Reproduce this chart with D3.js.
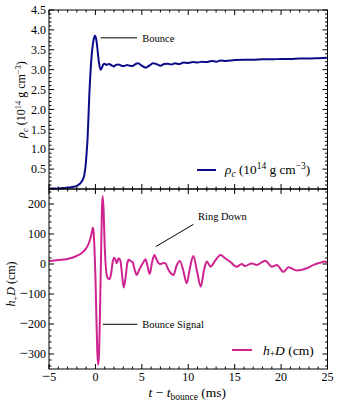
<!DOCTYPE html>
<html>
<head>
<meta charset="utf-8">
<script src="https://cdn.jsdelivr.net/npm/d3@7"></script>
<style>
  body { margin: 0; background: #fff; }
  svg text { font-family: "Liberation Serif", "DejaVu Serif", serif; fill: #000; }
</style>
</head>
<body>
<script>
// central density (10^14 g/cm^3) vs time after bounce (ms)
const rhoTime = [-5, -4, -3, -2.5, -2, -1.8, -1.6, -1.4, -1.2, -1.05, -0.95, -0.85, -0.75, -0.65, -0.5, -0.35, -0.2, -0.05,
  0.1, 0.25, 0.4, 0.55, 0.7, 0.85, 1.0, 1.2, 1.4, 1.6, 1.8, 2.0, 2.2, 2.5, 2.8, 3.1, 3.4, 3.7, 4.0, 4.3, 4.6, 5.0,
  5.4, 5.8, 6.2, 6.6, 7.0, 7.4, 7.8, 8.2, 8.6, 9.0, 9.5, 10, 10.5, 11, 11.5, 12, 12.5, 13, 13.5, 14, 15, 16, 17, 18,
  19, 20, 21, 22, 23, 24, 25];
const rhoVal = [0.01, 0.015, 0.03, 0.05, 0.08, 0.11, 0.15, 0.22, 0.35, 0.6, 0.9, 1.25, 1.8, 2.4, 3.05, 3.5, 3.75, 3.85,
  3.75, 3.45, 3.15, 3.0, 3.05, 3.13, 3.15, 3.12, 3.14, 3.13, 3.1, 3.08, 3.12, 3.13, 3.1, 3.09, 3.12, 3.1, 3.09, 3.14, 3.16, 3.1,
  3.05, 3.1, 3.16, 3.14, 3.1, 3.14, 3.15, 3.13, 3.16, 3.14, 3.18, 3.17, 3.19, 3.18, 3.2, 3.19, 3.22, 3.2, 3.23, 3.22, 3.24, 3.25, 3.25, 3.26,
  3.26, 3.27, 3.27, 3.28, 3.28, 3.29, 3.3];

// gravitational wave strain h+ D (cm)
const hTime = [-5, -4, -3, -2.5, -2, -1.5, -1.0, -0.7, -0.5, -0.35, -0.28, -0.2, -0.1, 0.0, 0.1, 0.2, 0.3, 0.4, 0.5, 0.6,
  0.7, 0.78, 0.88, 1.0, 1.15, 1.3, 1.5, 1.7, 1.85, 2.0, 2.15, 2.3, 2.5, 2.7, 2.85, 3.05, 3.25, 3.45, 3.6, 3.8,
  4.0, 4.2, 4.45, 4.7, 4.9, 5.15, 5.4, 5.6, 5.85, 6.1, 6.35, 6.55, 6.8, 7.0, 7.3, 7.55, 7.8, 8.1, 8.4, 8.75,
  9.1, 9.45, 9.84, 10.2, 10.55, 10.95, 11.35, 11.7, 12.0, 12.4, 12.9, 13.5, 13.96, 14.5, 15.2, 15.77, 16.1, 16.84, 17.38, 18.3,
  19.0, 19.54, 20.25, 20.8, 21.7, 22.77, 23.5, 24.2, 24.74, 25];
const hVal = [10, 13, 17, 21, 27, 36, 52, 70, 90, 112, 121, 110, 50, -40, -170, -290, -337, -290, -150, 20,
  180, 227, 180, 60, -20, -45, -51, -30, 5, 21, 15, 3, 19, 10, -30, -78, -45, 5, 14, 10,
  6, -15, -37, -20, -8, 5, 16, -5, -33, 5, 30, 18, 3, 0, 3, 2, -15, -30, -37, -5,
  10, -20, -64, -10, 27, -25, -76, -20, 8, -9, 11, 30, 19, 8, -9, 0, -7, 2, -3, 11,
  -9, -3, -26, -11, -22, -14, -3, 4, 8, 2];

const xTicks = [-5, 0, 5, 10, 15, 20, 25];
const rhoTicks = [0.5, 1.0, 1.5, 2.0, 2.5, 3.0, 3.5, 4.0, 4.5];
const hTicks = [-300, -200, -100, 0, 100, 200];

const w = 339, h = 404;
const left = 49, right = 327.5;
const top1 = 10, mid = 189, bot2 = 369;
const blue = "#0c0c8a";
const pink = "#cf2390";

const svg = d3.select("body").append("svg")
  .attr("width", w).attr("height", h);

const x = d3.scaleLinear().domain([-5, 25]).range([left, right]);
const yR = d3.scaleLinear().domain([0, 4.5]).range([mid, top1]);
const yH = d3.scaleLinear().domain([-350, 250]).range([bot2, mid]);

// ticks drawn inward on all sides
function xTickMarks(yPos, dir) {
  const g = svg.append("g");
  d3.range(-5, 25.01, 1).forEach(v => {
    const major = v % 5 === 0;
    const len = major ? 5 : 2.5;
    g.append("line")
      .attr("x1", x(v)).attr("x2", x(v))
      .attr("y1", yPos).attr("y2", yPos + dir * len)
      .attr("stroke", "#000").attr("stroke-width", 1);
  });
}
function yTickMarks(scale, lo, hi, minorStep, majorStep) {
  const g = svg.append("g");
  const n = Math.round((hi - lo) / minorStep);
  for (let i = 0; i <= n; i++) {
    const v = lo + i * minorStep;
    const major = Math.abs(v / majorStep - Math.round(v / majorStep)) < 1e-6;
    const len = major ? 5 : 2.5;
    [[left, 1], [right, -1]].forEach(([xp, dir]) => {
      g.append("line")
        .attr("x1", xp).attr("x2", xp + dir * len)
        .attr("y1", scale(v)).attr("y2", scale(v))
        .attr("stroke", "#000").attr("stroke-width", 1);
    });
  }
}

xTickMarks(top1, 1);
xTickMarks(mid, -1);
xTickMarks(mid, 1);
xTickMarks(bot2, -1);
yTickMarks(yR, 0, 4.5, 0.1, 0.5);
yTickMarks(yH, -340, 240, 20, 100);

// curves
const rhoData = rhoTime.map((t, i) => ({ t: t, v: rhoVal[i] }));
const hData = hTime.map((t, i) => ({ t: t, v: hVal[i] }));

svg.append("path")
  .datum(rhoData)
  .attr("fill", "none")
  .attr("stroke", blue)
  .attr("stroke-width", 2)
  .attr("d", d3.line().x(d => x(d.t)).y(d => yR(d.v)).curve(d3.curveMonotoneX));

svg.append("path")
  .datum(hData)
  .attr("fill", "none")
  .attr("stroke", pink)
  .attr("stroke-width", 2)
  .attr("d", d3.line().x(d => x(d.t)).y(d => yH(d.v)).curve(d3.curveMonotoneX));

// frames
svg.append("rect")
  .attr("x", left).attr("y", top1)
  .attr("width", right - left).attr("height", mid - top1)
  .attr("fill", "none").attr("stroke", "#000").attr("stroke-width", 1);
svg.append("rect")
  .attr("x", left).attr("y", mid)
  .attr("width", right - left).attr("height", bot2 - mid)
  .attr("fill", "none").attr("stroke", "#000").attr("stroke-width", 1);

// tick labels (wide math-style minus)
function numLabel(sel, str) {
  if (str.startsWith("−")) {
    sel.append("tspan").attr("font-size", 15).text("−");
    sel.append("tspan").text(str.slice(1));
  } else {
    sel.text(str);
  }
}

svg.append("g").selectAll("text")
  .data(rhoTicks).enter().append("text")
  .attr("x", left - 3).attr("y", d => yR(d)).attr("dy", "0.35em")
  .attr("text-anchor", "end").attr("font-size", 12)
  .text(d => d3.format(".1f")(d));

svg.append("g").selectAll("text")
  .data(hTicks).enter().append("text")
  .attr("x", left - 3).attr("y", d => yH(d)).attr("dy", "0.35em")
  .attr("text-anchor", "end").attr("font-size", 12)
  .each(function (d) { numLabel(d3.select(this), d3.format("d")(d)); });

svg.append("g").selectAll("text")
  .data(xTicks).enter().append("text")
  .attr("x", d => x(d)).attr("y", bot2 + 11.5)
  .attr("text-anchor", "middle").attr("font-size", 12)
  .each(function (d) { numLabel(d3.select(this), d3.format("d")(d)); });

// axis titles
const yt1 = svg.append("text")
  .attr("transform", "translate(25," + ((top1 + mid) / 2) + ") rotate(-90)")
  .attr("text-anchor", "middle").attr("font-size", 12);
yt1.append("tspan").attr("font-style", "italic").text("ρ");
yt1.append("tspan").attr("font-style", "italic").attr("font-size", 8.5).attr("dy", 2.5).text("c");
yt1.append("tspan").attr("dy", -2.5).text(" (10");
yt1.append("tspan").attr("font-size", 8.5).attr("dy", -4.5).text("14");
yt1.append("tspan").attr("dy", 4.5).text(" g cm");
yt1.append("tspan").attr("font-size", 8.5).attr("dy", -4.5).text("−3");
yt1.append("tspan").attr("dy", 4.5).text(")");

const yt2 = svg.append("text")
  .attr("transform", "translate(15," + ((mid + bot2) / 2 + 5) + ") rotate(-90)")
  .attr("text-anchor", "middle").attr("font-size", 12);
yt2.append("tspan").attr("font-style", "italic").text("h");
yt2.append("tspan").attr("font-size", 8.5).attr("dy", 2.5).text("+");
yt2.append("tspan").attr("font-style", "italic").attr("dy", -2.5).text("D");
yt2.append("tspan").text(" (cm)");

const xt = svg.append("text")
  .attr("x", (left + right) / 2 - 1).attr("y", 397)
  .attr("text-anchor", "middle").attr("font-size", 13.5);
xt.append("tspan").attr("font-style", "italic").text("t");
xt.append("tspan").text(" − ");
xt.append("tspan").attr("font-style", "italic").text("t");
xt.append("tspan").attr("font-size", 9.5).attr("dy", 2.5).text("bounce");
xt.append("tspan").attr("dy", -2.5).text(" (ms)");

// annotations
const annLines = [
  { scale: yR, t1: 0.55, v1: 3.8, t2: 4.48, v2: 3.8 },
  { scale: yH, t1: 0.79, v1: -201, t2: 4.51, v2: -201 },
  { scale: yH, t1: 6.5, v1: 58, t2: 10.55, v2: 132 }
];
annLines.forEach(a => {
  svg.append("line")
    .attr("x1", x(a.t1)).attr("y1", a.scale(a.v1))
    .attr("x2", x(a.t2)).attr("y2", a.scale(a.v2))
    .attr("stroke", "#000").attr("stroke-width", 1);
});
svg.append("text").attr("x", x(5.05)).attr("y", yR(3.8)).attr("dy", "0.35em")
  .attr("font-size", 10.5).text("Bounce");
svg.append("text").attr("x", x(5.05)).attr("y", yH(-201)).attr("dy", "0.35em")
  .attr("font-size", 10.5).text("Bounce Signal");
svg.append("text").attr("x", x(11.05)).attr("y", yH(160)).attr("dy", "0.35em")
  .attr("font-size", 10.5).text("Ring Down");

// legends
svg.append("line")
  .attr("x1", 197).attr("x2", 216).attr("y1", 170).attr("y2", 170)
  .attr("stroke", blue).attr("stroke-width", 2);
const lg1 = svg.append("text").attr("x", 225).attr("y", 174).attr("font-size", 13.3);
lg1.append("tspan").attr("font-style", "italic").text("ρ");
lg1.append("tspan").attr("font-style", "italic").attr("font-size", 9.5).attr("dy", 2.5).text("c");
lg1.append("tspan").attr("dy", -2.5).text(" (10");
lg1.append("tspan").attr("font-size", 9.5).attr("dy", -5).text("14");
lg1.append("tspan").attr("dy", 5).text(" g cm");
lg1.append("tspan").attr("font-size", 9.5).attr("dy", -5).text("−3");
lg1.append("tspan").attr("dy", 5).text(")");

svg.append("line")
  .attr("x1", 232).attr("x2", 252).attr("y1", 350).attr("y2", 350)
  .attr("stroke", pink).attr("stroke-width", 2);
const lg2 = svg.append("text").attr("x", 263).attr("y", 354.5).attr("font-size", 13.5);
lg2.append("tspan").attr("font-style", "italic").text("h");
lg2.append("tspan").attr("font-size", 9.5).attr("dy", 2.5).text("+");
lg2.append("tspan").attr("font-style", "italic").attr("dy", -2.5).text("D");
lg2.append("tspan").text(" (cm)");
</script>
</body>
</html>
